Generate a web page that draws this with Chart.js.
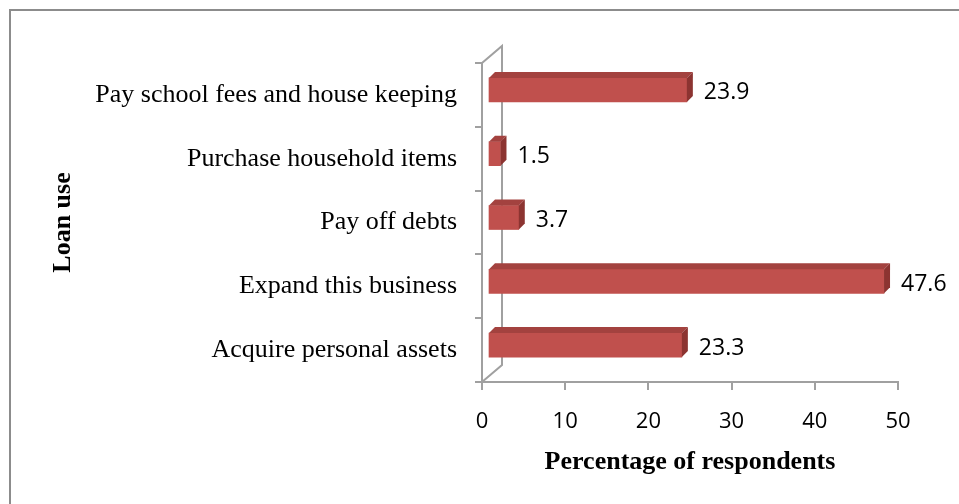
<!DOCTYPE html>
<html>
<head>
<meta charset="utf-8">
<script src="https://cdn.jsdelivr.net/npm/chart.js@4.4.1/dist/chart.umd.min.js"></script>
<style>
  html, body { margin: 0; padding: 0; background: #fff; }
  #frame {
    position: absolute; left: 9px; top: 9px; right: 0; bottom: 0;
    border-top: 2px solid #8c8c8c; border-left: 2px solid #8c8c8c;
  }
  #chart { position: absolute; left: 0; top: 0; }
</style>
</head>
<body>
<div id="frame"></div>
<canvas id="chart" width="959" height="504"></canvas>
<script>
// Data
var categories = [
    'Pay school fees and house keeping',
    'Purchase household items',
    'Pay off debts',
    'Expand this business',
    'Acquire personal assets'
];
var percentages = [23.9, 1.5, 3.7, 47.6, 23.3];
var xTicks = [0, 10, 20, 30, 40, 50];

// 3D look
var barShift = { x: 6, y: -5 };   // bars sit in the middle of the depth
var barDepth = 6;
var wallDepth = { x: 20, y: -17 };
var axisColor = '#a0a0a0';

var wall3d = {
    id: 'wall3d',
    beforeDatasetsDraw: function (chart) {
        var ctx = chart.ctx, a = chart.chartArea;
        ctx.save();
        ctx.strokeStyle = axisColor;
        ctx.lineWidth = 2;
        ctx.beginPath();
        ctx.moveTo(a.left, a.top);
        ctx.lineTo(a.left + wallDepth.x, a.top + wallDepth.y);
        ctx.lineTo(a.left + wallDepth.x, a.bottom + wallDepth.y);
        ctx.lineTo(a.left, a.bottom);
        ctx.stroke();
        ctx.restore();
    },
    beforeDatasetDraw: function (chart) {
        chart.ctx.save();
        chart.ctx.translate(barShift.x, barShift.y);
    },
    afterDatasetDraw: function (chart, args) {
        var ctx = chart.ctx;
        var meta = args.meta;
        meta.data.forEach(function (bar, i) {
            var x0 = bar.base, x1 = bar.x;
            var y0 = bar.y - bar.height / 2, y1 = bar.y + bar.height / 2;
            // top face
            ctx.fillStyle = '#a3423f';
            ctx.beginPath();
            ctx.moveTo(x0, y0);
            ctx.lineTo(x0 + barDepth, y0 - barDepth);
            ctx.lineTo(x1 + barDepth, y0 - barDepth);
            ctx.lineTo(x1, y0);
            ctx.closePath();
            ctx.fill();
            // side face
            ctx.fillStyle = '#8c3431';
            ctx.beginPath();
            ctx.moveTo(x1, y0);
            ctx.lineTo(x1 + barDepth, y0 - barDepth);
            ctx.lineTo(x1 + barDepth, y1 - barDepth);
            ctx.lineTo(x1, y1);
            ctx.closePath();
            ctx.fill();
            // value label
            ctx.fillStyle = '#000';
            ctx.font = '23px "Open Sans"';
            ctx.textAlign = 'left';
            ctx.textBaseline = 'middle';
            ctx.fillText(String(percentages[i]), x1 + 17, bar.y + 3);
        });
        ctx.restore();
    }
};

new Chart(document.getElementById('chart').getContext('2d'), {
    type: 'bar',
    data: {
        labels: categories,
        datasets: [{
            label: 'Percentage of respondents',
            data: percentages,
            backgroundColor: '#c0504d',
            borderWidth: 0,
            barThickness: 24
        }]
    },
    options: {
        indexAxis: 'y',
        responsive: false,
        devicePixelRatio: 1,
        animation: false,
        layout: { padding: { left: 0, right: 61, top: 63, bottom: 0 } },
        plugins: {
            legend: { display: false },
            tooltip: { enabled: false }
        },
        scales: {
            x: {
                type: 'linear',
                min: xTicks[0],
                max: xTicks[xTicks.length - 1],
                afterBuildTicks: function (scale) {
                    scale.ticks = xTicks.map(function (v) { return { value: v }; });
                },
                afterFit: function (scale) { scale.height = 122; },
                border: { display: true, color: axisColor, width: 2 },
                grid: { drawOnChartArea: false, drawTicks: true, tickLength: 8, color: axisColor, lineWidth: 2 },
                ticks: {
                    color: '#000',
                    padding: 19,
                    font: { family: 'Open Sans', size: 22 }
                },
                title: {
                    display: true,
                    text: 'Percentage of respondents',
                    color: '#000',
                    padding: { top: 0, bottom: 26 },
                    font: { family: 'Liberation Serif', size: 26, weight: 'bold' }
                }
            },
            y: {
                afterFit: function (scale) { scale.width = 482; },
                border: { display: true, color: axisColor, width: 2 },
                grid: { drawOnChartArea: false, drawTicks: true, tickLength: 7, color: axisColor, lineWidth: 2 },
                ticks: {
                    color: '#000',
                    padding: 18,
                    font: { family: 'Liberation Serif', size: 26 }
                },
                title: {
                    display: true,
                    text: 'Loan use',
                    color: '#000',
                    padding: { top: 48, bottom: 0 },
                    font: { family: 'Liberation Serif', size: 26, weight: 'bold' }
                }
            }
        }
    },
    plugins: [wall3d]
});
</script>
</body>
</html>
